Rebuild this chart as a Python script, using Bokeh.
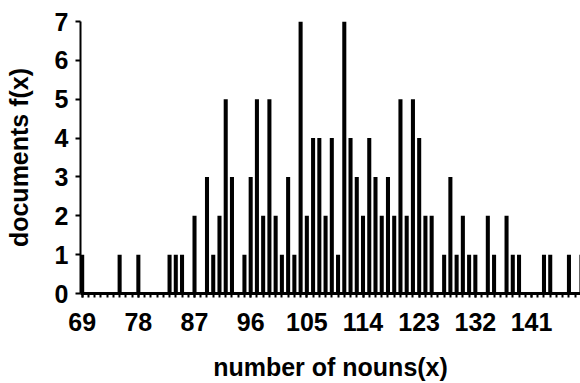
from bokeh.plotting import figure
from bokeh.models import FixedTicker, Range1d, ColumnDataSource
from bokeh.embed import file_html
from bokeh.resources import INLINE

nouns = [69, 75, 78, 83, 84, 85, 87, 89, 90, 91, 92, 93, 95, 96, 97, 98, 99, 100,
         101, 102, 103, 104, 105, 106, 107, 108, 109, 110, 111, 112, 113, 114, 115,
         116, 117, 118, 119, 120, 121, 122, 123, 124, 125, 127, 128, 129, 130, 131,
         132, 134, 135, 137, 138, 139, 143, 144, 147, 149]
documents = [1, 1, 1, 1, 1, 1, 2, 3, 1, 2, 5, 3, 1, 3, 5, 2, 5, 2,
             1, 3, 1, 7, 2, 4, 4, 2, 4, 1, 7, 4, 3, 2, 4,
             3, 2, 3, 2, 5, 2, 5, 4, 2, 2, 1, 3, 1, 2, 1,
             1, 2, 1, 2, 1, 1, 1, 1, 1, 1]
x_ticks = [69, 78, 87, 96, 105, 114, 123, 132, 141]
y_ticks = [0, 1, 2, 3, 4, 5, 6, 7]

FONT = "Liberation Sans"

p = figure(width=580, height=383, output_backend="svg", toolbar_location=None,
           x_range=Range1d(68.73, 148.85), y_range=Range1d(0, 7),
           min_border_left=80, min_border_right=0, min_border_top=21,
           min_border_bottom=90)
p.outline_line_color = None
p.xgrid.visible = False
p.ygrid.visible = False

src = ColumnDataSource(dict(x=nouns, top=documents))
p.vbar(x="x", top="top", bottom=0, width=0.65, source=src,
       fill_color="black", line_color=None)

xa = p.xaxis[0]
xa.ticker = FixedTicker(ticks=x_ticks, minor_ticks=list(range(69, 150)))
xa.axis_label = "number of nouns(x)"
xa.axis_line_width = 3
xa.major_tick_in = 0
xa.major_tick_out = 4
xa.minor_tick_in = 0
xa.minor_tick_out = 4
xa.major_tick_line_width = 2
xa.minor_tick_line_width = 2
xa.major_label_standoff = 15
xa.axis_label_standoff = 19

ya = p.yaxis[0]
ya.ticker = FixedTicker(ticks=y_ticks, minor_ticks=[])
ya.axis_label = "documents f(x)"
ya.axis_line_width = 2
ya.major_tick_in = 0
ya.major_tick_out = 5
ya.major_tick_line_width = 2
ya.major_label_standoff = 7
ya.axis_label_standoff = 19

for ax in (xa, ya):
    ax.major_label_text_font = FONT
    ax.major_label_text_font_style = "bold"
    ax.major_label_text_font_size = "25px"
    ax.major_label_text_color = "black"
    ax.axis_label_text_font = FONT
    ax.axis_label_text_font_style = "bold"
    ax.axis_label_text_font_size = "25px"
    ax.axis_label_text_color = "black"
    ax.axis_line_color = "black"
    ax.major_tick_line_color = "black"
    ax.minor_tick_line_color = "black"

open("out.html", "w").write(file_html(p, INLINE))
